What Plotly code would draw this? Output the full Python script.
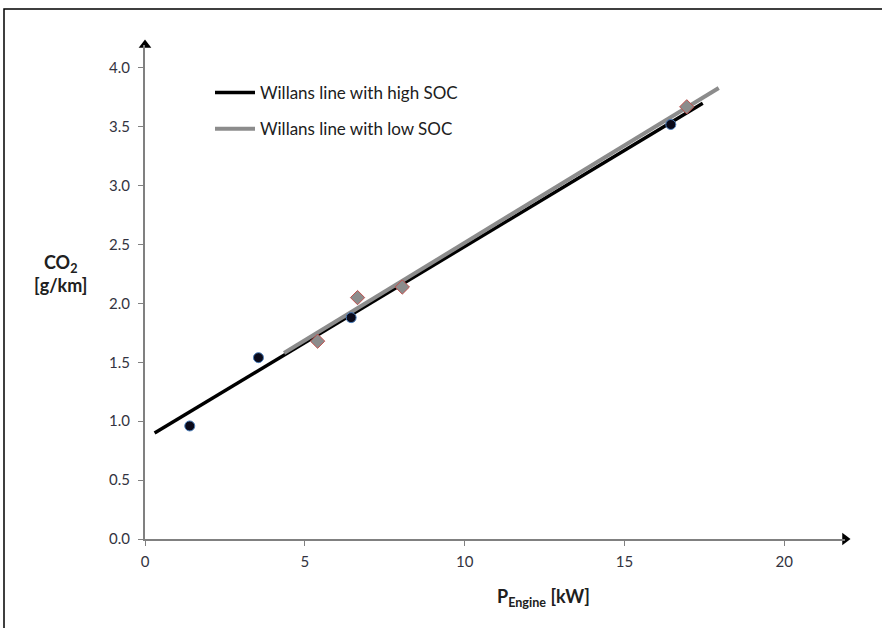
import plotly.graph_objects as go

# Data
high_soc_x = [1.4, 3.55, 6.45, 16.45]
high_soc_y = [0.96, 1.54, 1.88, 3.52]
low_soc_x = [5.4, 6.65, 8.05, 16.95]
low_soc_y = [1.68, 2.05, 2.14, 3.67]

high_line_x = [0.3, 17.45]
high_line_y = [0.90, 3.70]
low_line_x = [4.35, 17.95]
low_line_y = [1.58, 3.83]

x_ticks = [0, 5, 10, 15, 20]
y_ticks = [0.0, 0.5, 1.0, 1.5, 2.0, 2.5, 3.0, 3.5, 4.0]

XMAX = 21.9
YMAX = 4.195

FONT = "Lato"
TICK_COLOR = "#333340"

fig = go.Figure()

fig.add_trace(go.Scatter(x=high_line_x, y=high_line_y, mode="lines",
                         line=dict(color="black", width=3.5), legendgroup="a",
                         name="Willans line with high SOC"))
fig.add_trace(go.Scatter(x=low_line_x, y=low_line_y, mode="lines",
                         line=dict(color="#8c8c8c", width=4), legendgroup="b",
                         name="Willans line with low SOC"))
fig.add_trace(go.Scatter(x=high_soc_x, y=high_soc_y, mode="markers",
                         marker=dict(symbol="circle", size=10, color="#0a0a1a",
                                     line=dict(color="#4a7ebb", width=1)),
                         showlegend=False))
fig.add_trace(go.Scatter(x=low_soc_x, y=low_soc_y, mode="markers",
                         marker=dict(symbol="diamond", size=11, color="#8c8c8c",
                                     line=dict(color="#c0504d", width=1)),
                         showlegend=False))

# axis arrows
fig.add_trace(go.Scatter(x=[XMAX], y=[0], mode="markers", cliponaxis=False,
                         marker=dict(symbol="triangle-right", size=11, color="black"),
                         showlegend=False, hoverinfo="skip"))
fig.add_trace(go.Scatter(x=[0], y=[YMAX], mode="markers", cliponaxis=False,
                         marker=dict(symbol="triangle-up", size=11, color="black"),
                         showlegend=False, hoverinfo="skip"))

W, H = 882, 628
L, R, T, B = 145, 37, 45, 89
pw = W - L - R
ph = H - T - B


def px_x(px):
    return (px - L) / pw


def px_y(py):
    return (H - B - py) / ph


fig.update_layout(
    width=W, height=H,
    margin=dict(l=L, r=R, t=T, b=B, autoexpand=False),
    paper_bgcolor="white", plot_bgcolor="white",
    font=dict(family=FONT, color=TICK_COLOR, size=15),
    showlegend=True,
    legend=dict(x=px_x(210), y=px_y(75), xanchor="left", yanchor="top",
                bgcolor="rgba(0,0,0,0)", font=dict(size=17, color="#202020"),
                tracegroupgap=11, itemwidth=40),
    xaxis=dict(range=[0, XMAX], tickvals=x_ticks, ticktext=[str(v) for v in x_ticks],
               showgrid=False, zeroline=False, showline=True, linecolor="#808080",
               linewidth=2, ticks="outside", ticklen=5, tickcolor="#808080",
               ticklabelstandoff=3,
               tickfont=dict(size=15, color=TICK_COLOR)),
    yaxis=dict(range=[0, YMAX], tickvals=y_ticks, ticktext=[f"{v:.1f}" for v in y_ticks],
               showgrid=False, zeroline=False, showline=True, linecolor="#808080",
               linewidth=2, ticks="outside", ticklen=5, tickcolor="#808080",
               ticklabelstandoff=5,
               tickfont=dict(size=15, color=TICK_COLOR)),
)

# axis titles as annotations
fig.add_annotation(xref="paper", yref="paper", x=px_x(60), y=px_y(273),
                   xanchor="center", yanchor="middle",
                   text="<b>CO<sub>2</sub><br>[g/km]</b>", showarrow=False,
                   font=dict(size=18, color="#202020"), align="center")
fig.add_annotation(xref="paper", yref="paper", x=px_x(543), y=px_y(597),
                   xanchor="center", yanchor="middle",
                   text="<b>P<sub>Engine</sub> [kW]</b>", showarrow=False,
                   font=dict(size=18, color="#202020"), align="center")

# outer frame
fig.add_shape(type="rect", xref="paper", yref="paper",
              x0=px_x(4), x1=px_x(W + 5),
              y0=px_y(H + 5), y1=px_y(9),
              line=dict(color="black", width=1.5), fillcolor="rgba(0,0,0,0)", layer="below")

fig.write_html("out.html", config={"displayModeBar": False},
               post_script="document.body.style.margin='0';document.body.style.overflow='hidden';")
